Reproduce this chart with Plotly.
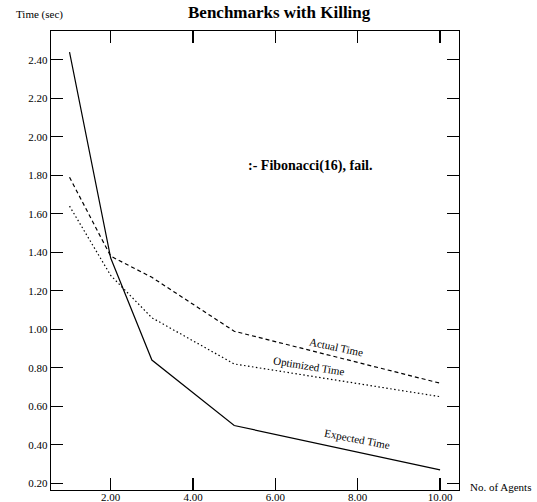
import plotly.graph_objects as go

agents = [1, 2, 3, 5, 10]
expected_time = [2.44, 1.37, 0.84, 0.50, 0.27]
actual_time = [1.79, 1.38, 1.27, 0.99, 0.72]
optimized_time = [1.64, 1.28, 1.06, 0.82, 0.65]

x_ticks = [2, 4, 6, 8, 10]
y_ticks = [0.2, 0.4, 0.6, 0.8, 1.0, 1.2, 1.4, 1.6, 1.8, 2.0, 2.2, 2.4]

FONT = "Liberation Serif, Times New Roman, serif"

fig = go.Figure()
fig.add_trace(go.Scatter(x=agents, y=expected_time, mode="lines",
                         line=dict(color="black", width=1.2, dash="solid")))
fig.add_trace(go.Scatter(x=agents, y=actual_time, mode="lines",
                         line=dict(color="black", width=1.2, dash="4px,3px")))
fig.add_trace(go.Scatter(x=agents, y=optimized_time, mode="lines",
                         line=dict(color="black", width=1.2, dash="1.5px,2.5px")))

axis_common = dict(showgrid=False, zeroline=False, showline=True, linecolor="black",
                   linewidth=1.2, mirror="ticks", ticks="inside", ticklen=12,
                   tickcolor="black", tickwidth=1.2, automargin=False,
                   tickfont=dict(family=FONT, size=11, color="black"))

L, R, T, B = 51, 78, 31, 12
W, H = 537, 502
PW, PH = W - L - R, H - T - B

fig.update_layout(
    width=W, height=H,
    margin=dict(l=L, r=R, t=T, b=B),
    paper_bgcolor="white", plot_bgcolor="white",
    showlegend=False,
    font=dict(family=FONT, color="black"),
    xaxis=dict(range=[0.55, 10.46], tickvals=x_ticks,
               ticktext=[f"{v:.2f}" for v in x_ticks], ticklabelstandoff=-3, **axis_common),
    yaxis=dict(range=[0.165, 2.55], tickvals=y_ticks,
               ticktext=[f"{v:.2f}" for v in y_ticks], **axis_common),
)

annotations = [
    dict(text="<b>Benchmarks with Killing</b>", x=279, y=13, size=17),
    dict(text="Time (sec)", x=39, y=15, size=11),
    dict(text="No. of Agents", x=500, y=487, size=11),
]
for a in annotations:
    fig.add_annotation(text=a["text"], xref="paper", yref="paper",
                       x=(a["x"] - L) / PW, y=(H - B - a["y"]) / PH,
                       xanchor="center", yanchor="middle", showarrow=False,
                       font=dict(family=FONT, size=a["size"], color="black"))

fig.add_annotation(text="<b>:- Fibonacci(16), fail.</b>", x=6.84, y=1.85, xref="x", yref="y",
                   showarrow=False, font=dict(family=FONT, size=14, color="black"))
fig.add_annotation(text="Actual Time", x=7.48, y=0.91, xref="x", yref="y", textangle=12,
                   showarrow=False, font=dict(family=FONT, size=11, color="black"))
fig.add_annotation(text="Optimized Time", x=6.82, y=0.81, xref="x", yref="y", textangle=9,
                   showarrow=False, font=dict(family=FONT, size=11, color="black"))
fig.add_annotation(text="Expected Time", x=7.99, y=0.43, xref="x", yref="y", textangle=11,
                   showarrow=False, font=dict(family=FONT, size=11, color="black"))

# remove the default 8px body margin so the figure fills the window exactly
fig.write_html("out.html",
               config={"displayModeBar": False, "staticPlot": True},
               post_script="document.body.style.margin='0px';document.body.style.overflow='hidden';")
